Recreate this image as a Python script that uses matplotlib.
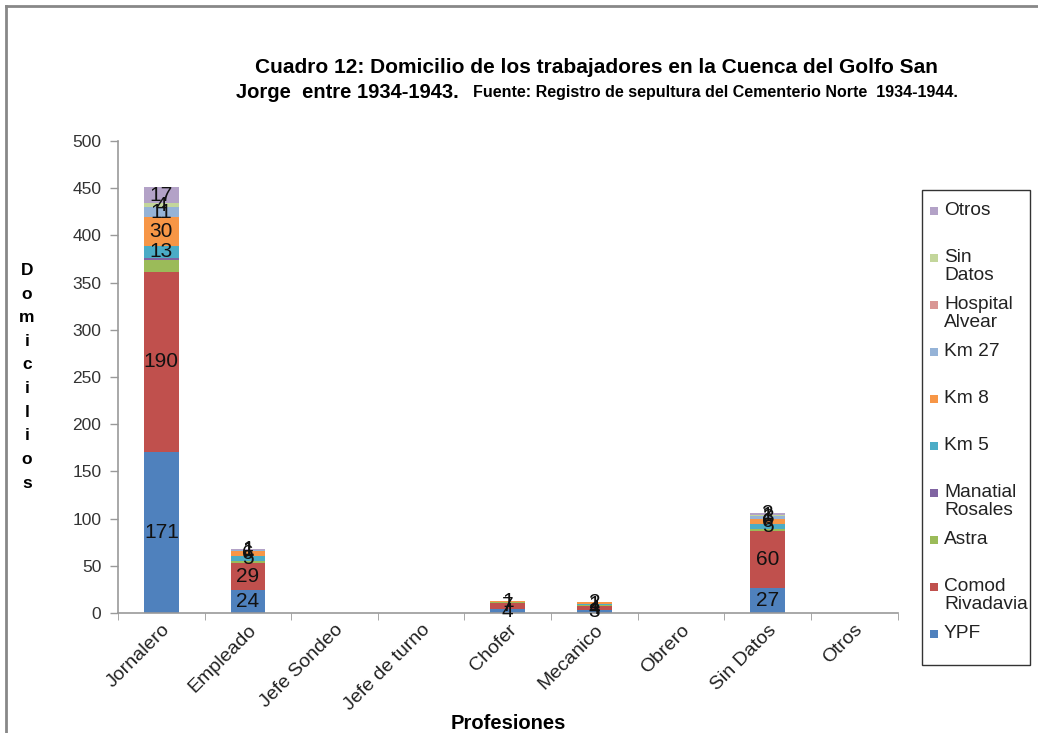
import numpy as np
import matplotlib
matplotlib.use('Agg')
import matplotlib.pyplot as plt
from matplotlib.lines import Line2D
from matplotlib.patches import Rectangle

plt.rcParams['font.family'] = ['Liberation Sans', 'DejaVu Sans']

# Datos: domicilio por profesion
categories = ['Jornalero', 'Empleado', 'Jefe Sondeo', 'Jefe de turno', 'Chofer',
              'Mecanico', 'Obrero', 'Sin Datos', 'Otros']
ypf       = [171, 24, 0, 0, 4, 3, 0, 27, 0]
comod     = [190, 29, 0, 0, 7, 4, 0, 60, 0]
astra     = [13, 2, 0, 0, 1, 2, 0, 2, 0]
manatial  = [2, 0, 0, 0, 0, 0, 0, 0, 0]
km5       = [13, 5, 0, 0, 0, 1, 0, 5, 0]
km8       = [30, 6, 0, 0, 1, 2, 0, 6, 0]
km27      = [11, 1, 0, 0, 0, 0, 0, 3, 0]
hospital  = [0, 0, 0, 0, 0, 0, 0, 0, 0]
sin_datos = [4, 0, 0, 0, 0, 0, 0, 1, 0]
otros     = [17, 1, 0, 0, 0, 0, 0, 2, 0]

series = [
    ('YPF', ypf, '#4F81BD', True),
    ('Comod\nRivadavia', comod, '#C0504D', True),
    ('Astra', astra, '#9BBB59', False),
    ('Manatial\nRosales', manatial, '#8064A2', False),
    ('Km 5', km5, '#4BACC6', True),
    ('Km 8', km8, '#F79646', True),
    ('Km 27', km27, '#95B3D7', True),
    ('Hospital\nAlvear', hospital, '#D99694', True),
    ('Sin\nDatos', sin_datos, '#C3D69B', True),
    ('Otros', otros, '#B3A2C7', True),
]

fig = plt.figure(figsize=(10.38, 7.33), dpi=100)
ax = fig.add_axes([0.1137, 0.1637, 0.751, 0.644])

x = np.arange(len(categories))
bottom = np.zeros(len(categories))
for name, vals, color, show in series:
    vals = np.array(vals, dtype=float)
    ax.bar(x, vals, width=0.4, bottom=bottom, color=color, edgecolor='none')
    if show:
        for xi, b, v in zip(x, bottom, vals):
            if v > 0:
                ax.text(xi, b + v / 2, '{:d}'.format(int(v)), ha='center', va='center',
                        fontsize=15, color='#111111')
    bottom += vals

ax.set_xlim(-0.5, len(categories) - 0.5)
ax.set_ylim(0, 500)
ax.set_yticks(np.arange(0, 501, 50))
ax.tick_params(axis='y', labelsize=12.5, labelcolor='#333333', color='#999999',
               length=6, width=1, pad=6)
ax.set_xticks(x)
ax.set_xticklabels(categories, rotation=45, ha='right', rotation_mode='anchor',
                   fontsize=14, color='#222222')
ax.tick_params(axis='x', which='major', length=0, pad=6)
ax.set_xticks(np.arange(-0.5, len(categories)), minor=True)
ax.tick_params(axis='x', which='minor', length=5, color='#999999')
for s in ['top', 'right']:
    ax.spines[s].set_visible(False)
for s in ['left', 'bottom']:
    ax.spines[s].set_color('#999999')
    ax.spines[s].set_linewidth(1.2)

# Titulo
fig.text(0.575, 0.908, 'Cuadro 12: Domicilio de los trabajadores en la Cuenca del Golfo San',
         ha='center', va='center', fontsize=15, fontweight='bold')
fig.text(236 / 1038, 0.874, 'Jorge  entre 1934-1943.', ha='left', va='center',
         fontsize=14.5, fontweight='bold')
fig.text(473 / 1038, 0.874, 'Fuente: Registro de sepultura del Cementerio Norte  1934-1944.',
         ha='left', va='center', fontsize=11.5, fontweight='bold',
         family=['Liberation Sans Narrow', 'Liberation Sans'])

# Ejes
fig.text(0.026, 0.486, '\n'.join('Domicilios'), ha='center', va='center',
         fontsize=12.5, fontweight='bold', linespacing=1.72)
fig.text(0.49, 0.013, 'Profesiones', ha='center', va='center', fontsize=14.5,
         fontweight='bold')

# Leyenda
W, H = 1038.0, 733.0
fig.add_artist(Rectangle((922 / W, 1 - 665 / H), 108 / W, 475 / H, transform=fig.transFigure,
                         facecolor='white', edgecolor='#333333', linewidth=1))
for i, (name, vals, color, show) in enumerate(series[::-1]):
    yc = 1 - (211 + i * 47.0) / H
    fig.add_artist(Rectangle((930 / W, yc - 4 / H), 8 / W, 8 / H, transform=fig.transFigure,
                             facecolor=color, edgecolor='none'))
    fig.text(944 / W, yc + 9 / H, name, ha='left', va='top', fontsize=13.8,
             color='#222222', linespacing=1.05)

# Marco exterior
fig.add_artist(Line2D([6 / W, 1.0], [1 - 6 / H, 1 - 6 / H], transform=fig.transFigure,
                      color='#888888', linewidth=2))
fig.add_artist(Line2D([6 / W, 6 / W], [0, 1 - 6 / H], transform=fig.transFigure,
                      color='#888888', linewidth=2))

fig.savefig('out.png', dpi=100)
